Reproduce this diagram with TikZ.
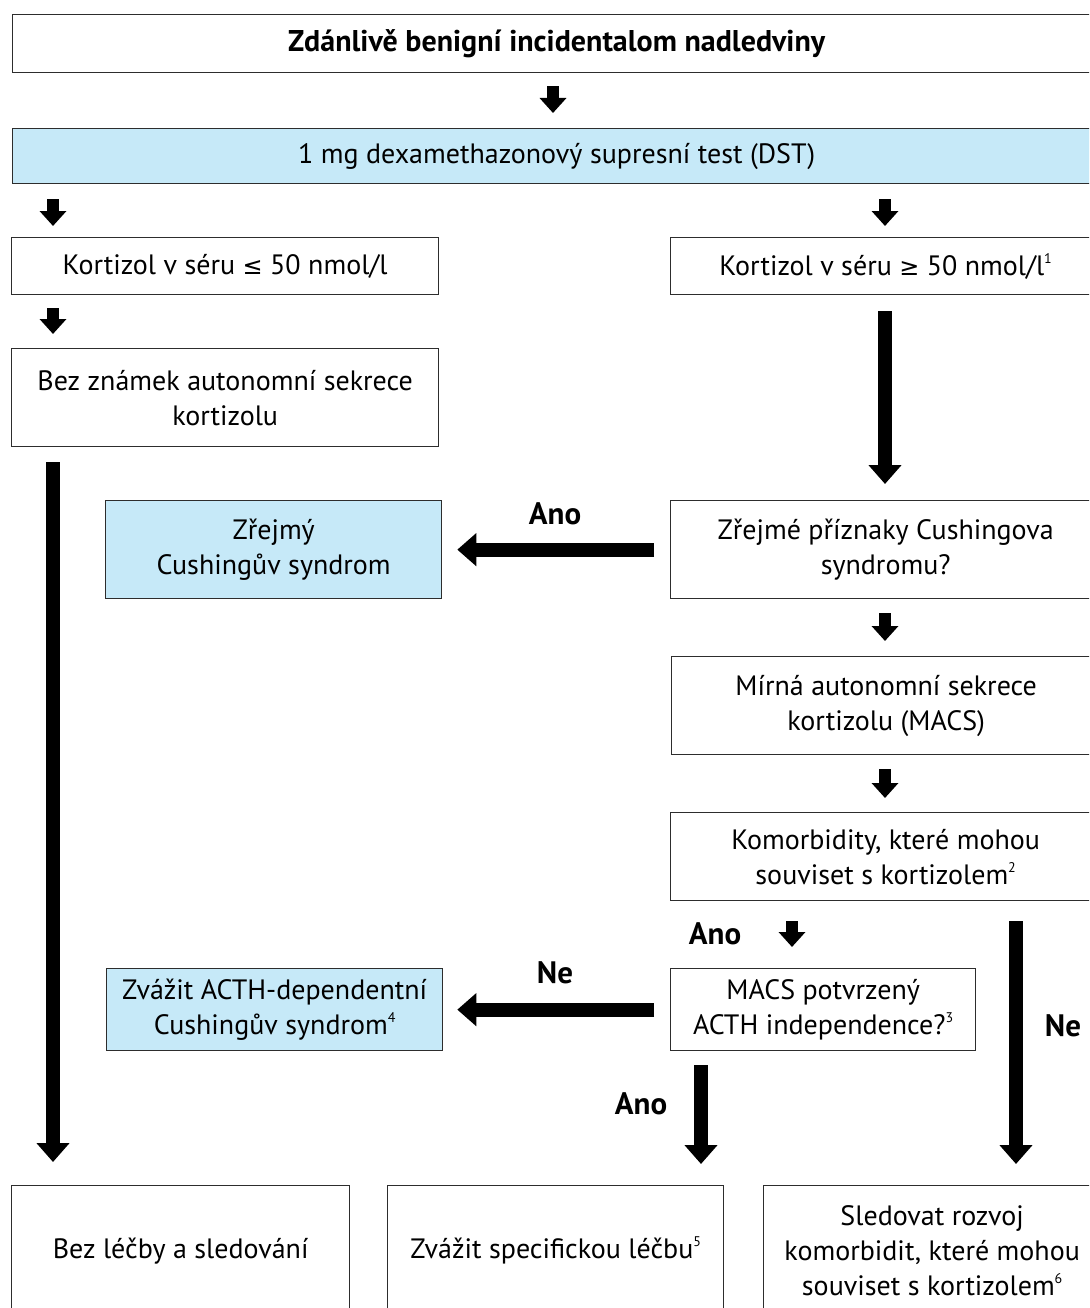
\documentclass[tikz,border=0pt]{standalone}
\usepackage{fontspec}
\setmainfont{PT Sans}
\newfontfamily\symfnt{DejaVu Sans}
\usetikzlibrary{arrows.meta,calc}
\definecolor{boxblue}{RGB}{198,233,248}
\definecolor{boxline}{RGB}{45,45,45}
\newcommand{\supn}[1]{\raisebox{0.85ex}{\fontsize{14}{14}\selectfont #1}}
\newcommand{\leqs}{{\symfnt\fontsize{24}{24}\selectfont ≤}}
\newcommand{\geqs}{{\symfnt\fontsize{24}{24}\selectfont ≥}}
\begin{document}
\begin{tikzpicture}[x=1pt,y=-1pt,
  box/.style={draw=boxline, line width=1.3pt, align=center, inner sep=0pt, anchor=north west, font=\fontsize{28}{35}\selectfont},
  bluebox/.style={box, fill=boxblue},
  arr/.style={line width=12pt, -{Triangle[width=26pt,length=15pt]}},
  bigarr/.style={line width=14pt, -{Triangle[width=32pt,length=19pt]}},
  lab/.style={font=\fontsize{31}{34}\selectfont\bfseries}]
\useasboundingbox (0,0) rectangle (1089,1308);
\clip (0,0) rectangle (1089,1308);
% columns for connectors
\coordinate (cA) at (553,0);
\coordinate (cL) at (53,0);
\coordinate (cR) at (885,0);
\coordinate (cM) at (792,0);
\coordinate (cY) at (701,0);
\coordinate (cN) at (1016,0);
% nodes
\node[box, minimum width=1088pt, minimum height=58pt, font=\fontsize{30}{35}\selectfont\bfseries] (title) at (12,14) {Zdánlivě benigní incidentalom nadledviny};
\node[bluebox, minimum width=1088pt, minimum height=55pt] (dst) at (12,128) {1 mg dexamethazonový supresní test (DST)};
\node[box, minimum width=427pt, minimum height=57pt] (k1) at (11,237) {Kortizol v séru \leqs{} 50 nmol/l};
\node[box, minimum width=430pt, minimum height=57pt] (k2) at (670,237) {Kortizol v séru \geqs{} 50 nmol/l\supn{1}};
\node[box, minimum width=427pt, minimum height=98pt] (bez) at (11,348) {Bez známek autonomní sekrece\\kortizolu};
\node[bluebox, minimum width=336pt, minimum height=98pt] (zc) at (105,500) {Zřejmý\\Cushingův syndrom};
\node[box, minimum width=430pt, minimum height=98pt] (zp) at (670,500) {Zřejmé příznaky Cushingova\\syndromu?};
\node[box, minimum width=429pt, minimum height=98pt] (macs) at (671,656) {Mírná autonomní sekrece\\kortizolu (MACS)};
\node[box, minimum width=430pt, minimum height=88pt] (kom) at (670,812) {Komorbidity, které mohou\\souviset s kortizolem\supn{2}};
\node[box, minimum width=305pt, minimum height=82pt] (acth) at (670,968) {MACS potvrzený\\ACTH independence?\supn{3}};
\node[bluebox, minimum width=336pt, minimum height=82pt] (zacth) at (106,968) {Zvážit ACTH-dependentní\\Cushingův syndrom\supn{4}};
\node[box, minimum width=338pt, minimum height=130pt] (b1) at (11,1185) {Bez léčby a sledování};
\node[box, minimum width=336pt, minimum height=130pt] (b2) at (387,1185) {Zvážit specifickou léčbu\supn{5}};
\node[box, minimum width=337pt, minimum height=130pt] (b3) at (763,1185) {Sledovat rozvoj\\komorbidit, které mohou\\souviset s kortizolem\supn{6}};
% labels
\node[lab] (l1) at (555,514) {Ano};
\node[lab] (l2) at (715,934) {Ano};
\node[lab] (l3) at (555,973) {Ne};
\node[lab] (l4) at (641,1104) {Ano};
\node[lab] (l5) at (1063,1026) {Ne};
% connectors
\draw[arr, shorten <=13pt, shorten >=15pt] (title.south -| cA) -- (dst.north -| cA);
\draw[arr, shorten <=15pt, shorten >=11pt] (dst.south -| cL) -- (k1.north -| cL);
\draw[arr, shorten <=15pt, shorten >=11pt] (dst.south -| cR) -- (k2.north -| cR);
\draw[arr, shorten <=13pt, shorten >=14pt] (k1.south -| cL) -- (bez.north -| cL);
\draw[bigarr, shorten <=15pt, shorten >=23pt] (bez.south -| cL) -- (b1.north -| cL);
\draw[bigarr, shorten <=16pt, shorten >=16pt] (k2.south -| cR) -- (zp.north -| cR);
\draw[bigarr, shorten <=16pt, shorten >=15pt] (zp.west) -- (zc.east);
\draw[arr, shorten <=14pt, shorten >=15pt] (zp.south -| cR) -- (macs.north -| cR);
\draw[arr, shorten <=14pt, shorten >=14pt] (macs.south -| cR) -- (kom.north -| cR);
\draw[arr, shorten <=20pt, shorten >=21pt] (kom.south -| cM) -- (acth.north -| cM);
\draw[bigarr, shorten <=16pt, shorten >=14pt] (acth.west) -- (zacth.east);
\draw[bigarr, shorten <=14pt, shorten >=21pt] (acth.south -| cY) -- (b2.north -| cY);
\draw[bigarr, shorten <=20pt, shorten >=21pt] (kom.south -| cN) -- (b3.north -| cN);
\end{tikzpicture}
\end{document}
